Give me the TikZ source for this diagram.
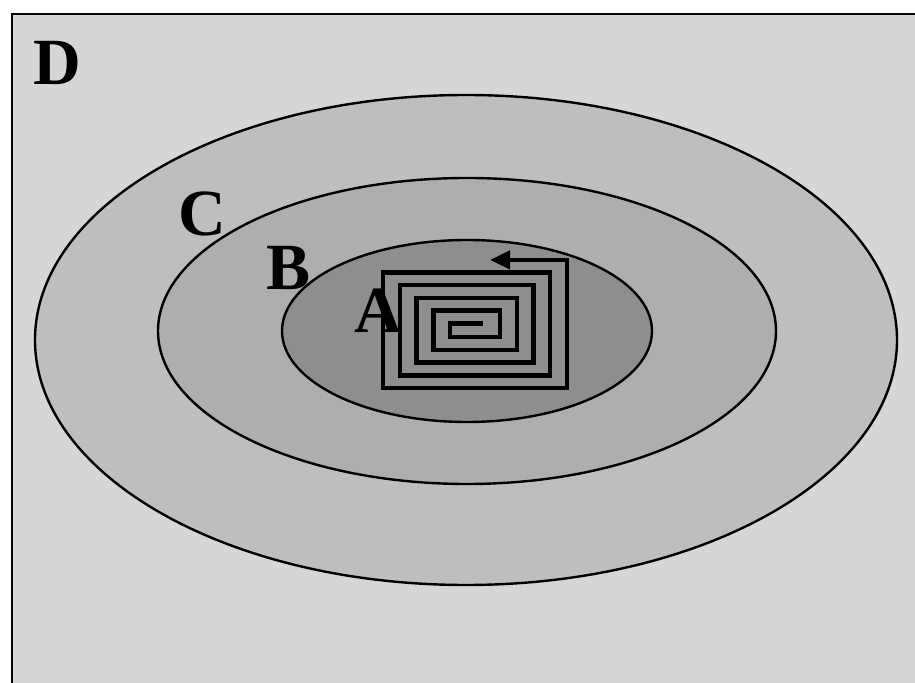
\documentclass[tikz,border=0pt]{standalone}
\usepackage{fontspec}
\setmainfont{Liberation Serif}
\usepackage{xcolor}
\usepackage{tikz}
\usetikzlibrary{arrows.meta}
\definecolor{zoneD}{HTML}{D6D6D6}
\definecolor{zoneC}{HTML}{BEBEBE}
\definecolor{zoneB}{HTML}{AEAEAE}
\definecolor{zoneA}{HTML}{8E8E8E}

\begin{document}
\begin{tikzpicture}[
    x=0.5pt, y=-0.5pt,
    zone/.style={draw=black, line width=1.2pt},
    lbl/.style={anchor=base west, inner sep=0pt, font=\fontsize{33}{40}\selectfont\bfseries},
    spiral/.style={line width=2.2pt, line join=miter, -{Triangle[length=10pt, width=9pt]}}
]
\useasboundingbox (0,0) rectangle (915,683);
% frame and zones
\fill[white] (0,0) rectangle (915,683);
\fill[zoneD] (12,14) rectangle (915,683);
\draw[line width=1.2pt] (915,14) -- (12,14) -- (12,683);
\draw[zone, fill=zoneC] (466,340) ellipse [x radius=431, y radius=245];
\draw[zone, fill=zoneB] (467,331) ellipse [x radius=309, y radius=153];
\draw[zone, fill=zoneA] (467,331) ellipse [x radius=185, y radius=91];
% labels
\node[lbl] (lblD) at (33,85) {D};
\node[lbl] (lblC) at (178,236) {C};
\node[lbl] (lblB) at (266,290) {B};
\node[lbl] (lblA) at (354,333) {A};
% spiral search path
\draw[spiral] (483,323.4)
    \foreach \k in {0,...,4} {
        -- ({450-16.7*\k},{323.4-12.7*\k})
        -- ({450-16.7*\k},{337.3+12.7*\k})
        -- ({500+16.7*\k},{337.3+12.7*\k})
        -- ({500+16.7*\k},{310.7-12.7*\k})
    } -- (490,259.9);
\end{tikzpicture}
\end{document}
